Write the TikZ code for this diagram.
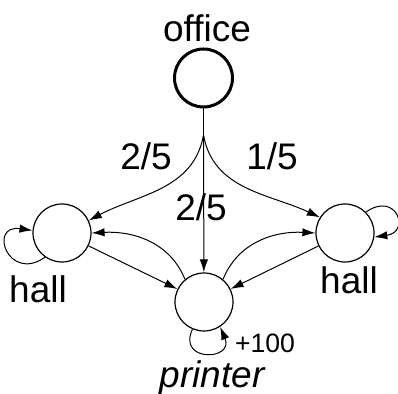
\documentclass[tikz,border=0pt]{standalone}
\usepackage{fontspec}
\setmainfont{Liberation Sans}
\usetikzlibrary{arrows.meta}

\begin{document}
\begin{tikzpicture}[x=0.5pt,y=-0.5pt,
        state/.style={draw,circle,minimum size=29pt,inner sep=0pt,line width=0.6pt},
        big/.style={font=\fontsize{18.5}{22}\selectfont},
        small/.style={font=\fontsize{13.3}{16}\selectfont},
        edge/.style={line width=0.5pt,-{Latex[length=6.5pt,width=4.2pt]}}]
        \useasboundingbox (0,0) rectangle (398,394);
        \node[state,line width=1.5pt] (office) at (203.5,78) {};
        \node[state] (hallL) at (62,233) {};
        \node[state] (hallR) at (345,233) {};
        \node[state] (printer) at (204,302) {};
        \coordinate (split) at (203.5,135);
        \node[big] (officetext) at (207,28.5) {office};
        \node[big] (hallLtext) at (38,289) {hall};
        \node[big] (hallRtext) at (349,280) {hall};
        \node[big] (printertext) at (212,378) {\itshape printer};
        \node[small] (reward) at (265,343) {+100};
        \draw[line width=0.5pt] (office) -- (split);
        \draw[edge] (split) to[out=-100,in=28] (hallL.25);
        \draw[edge] (split) to[out=-80,in=155] (hallR.148);
        \draw[edge] (split) -- (printer);
        \node[big] (pL) at (146,156) {2/5};
        \node[big] (pR) at (272,156) {1/5};
        \node[big] (pM) at (201,207) {2/5};
        \draw[edge] (hallL) -- (printer);
        \draw[edge] (hallR) -- (printer);
        \draw[edge] (printer.130) to[out=112,in=3] (hallL.east);
        \draw[edge] (printer.50) to[out=68,in=177] (hallR.west);
        \draw[edge] (hallL.235) to[out=215,in=172,looseness=3.9] (hallL.175);
        \draw[edge] (hallR.45) to[out=35,in=8,looseness=3.6] (hallR.-8);
        \draw[edge] (printer.247) to[out=245,in=293,looseness=3.4] (printer.303);
    \end{tikzpicture}
\end{document}
